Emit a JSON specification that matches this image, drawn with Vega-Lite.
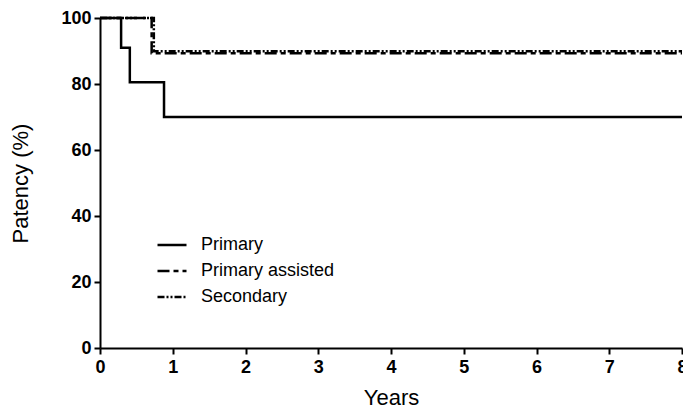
{
  "$schema": "https://vega.github.io/schema/vega-lite/v6.json",
  "width": 582,
  "height": 330,
  "autosize": {"type": "none"},
  "padding": {"left": 100, "top": 18, "right": 1, "bottom": 65},
  "background": "white",
  "data": {
    "values": [
      {"series": "Primary", "years": 0, "patency": 100},
      {"series": "Primary", "years": 0.29, "patency": 91},
      {"series": "Primary", "years": 0.41, "patency": 80.5},
      {"series": "Primary", "years": 0.88, "patency": 70},
      {"series": "Primary", "years": 8, "patency": 70},
      {"series": "Primary assisted", "years": 0, "patency": 100},
      {"series": "Primary assisted", "years": 0.71, "patency": 89.3},
      {"series": "Primary assisted", "years": 8, "patency": 89.3},
      {"series": "Secondary", "years": 0, "patency": 100},
      {"series": "Secondary", "years": 0.74, "patency": 89.9},
      {"series": "Secondary", "years": 8, "patency": 89.9}
    ]
  },
  "mark": {"type": "line", "interpolate": "step-after", "strokeWidth": 2.5, "color": "black", "clip": false},
  "encoding": {
    "x": {
      "field": "years", "type": "quantitative",
      "scale": {"domain": [0, 8], "nice": false, "zero": true},
      "axis": {"title": "Years", "values": [0,1,2,3,4,5,6,7,8], "grid": false, "labelFlush": false}
    },
    "y": {
      "field": "patency", "type": "quantitative",
      "scale": {"domain": [0, 100], "nice": false},
      "axis": {"title": "Patency (%)", "values": [0,20,40,60,80,100], "grid": false}
    },
    "detail": {"field": "series"},
    "strokeDash": {
      "field": "series", "type": "nominal",
      "scale": {"domain": ["Primary", "Primary assisted", "Secondary"], "range": [[1,0],[12,4,5,4],[7,2,2,2,2,2]]},
      "legend": {
        "title": null, "orient": "none", "legendX": 56, "legendY": 211,
        "symbolType": "stroke", "symbolSize": 841, "symbolStrokeWidth": 2.5, "symbolStrokeColor": "black",
        "labelFontSize": 18, "labelFont": "Liberation Sans", "labelColor": "black", "labelOffset": 13,
        "rowPadding": 1
      }
    }
  },
  "config": {
    "view": {"stroke": null},
    "axis": {
      "domainColor": "black", "domainWidth": 2, "tickColor": "black", "tickWidth": 2, "tickSize": 6,
      "labelFont": "Liberation Sans", "labelFontSize": 18, "labelFontWeight": "bold", "labelColor": "black",
      "titleFont": "Liberation Sans", "titleFontSize": 22, "titleFontWeight": "normal", "titleColor": "black"
    },
    "axisX": {"labelPadding": 4, "titlePadding": 11},
    "axisY": {"labelPadding": 3, "titlePadding": 28}
  }
}
